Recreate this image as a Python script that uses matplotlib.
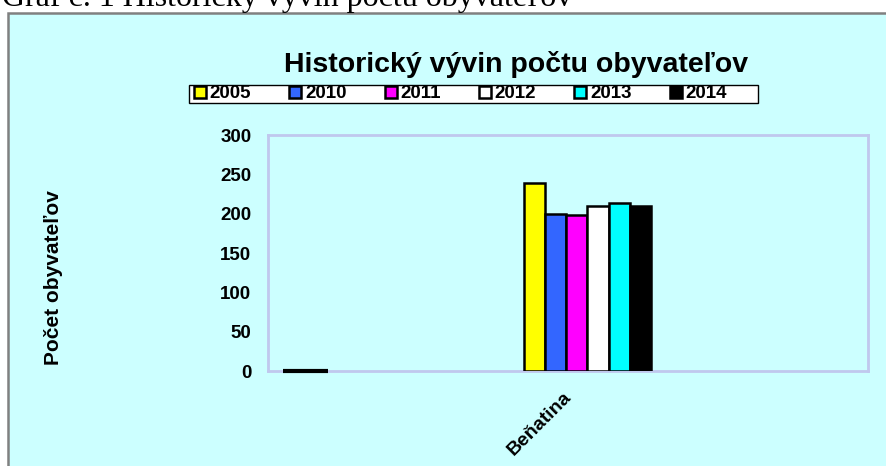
import matplotlib
matplotlib.use('Agg')
import matplotlib.pyplot as plt
from matplotlib.patches import Rectangle

# data
years = ['2005', '2010', '2011', '2012', '2013', '2014']
obec = 'Beňatina'
pocty = [239, 200, 198, 210, 213, 210]
prazdna_hodnota = 0   # prazdna kategoria vlavo (cierna ciara na nule)
farby = ['#FFFF00', '#3366FF', '#FF00FF', '#FFFFFF', '#00FFFF', '#000000']
y_ticks = [0, 50, 100, 150, 200, 250, 300]

plt.rcParams['font.family'] = ['Liberation Sans', 'DejaVu Sans']

W, H = 887, 466
fig = plt.figure(figsize=(W / 100, H / 100), dpi=100, facecolor='white')

# pozadie grafu (ram zacina vlavo hore, pokracuje za okraj)
fig.patches.append(Rectangle((8 / W, -0.1), 1.2, 1 - 13 / H + 0.1, transform=fig.transFigure,
                             facecolor='#CCFFFF', edgecolor='#808080', linewidth=1.8, zorder=-10))

# popis nad grafom
fig.text(2 / W, 1 - 6 / H, 'Graf č. 1 Historický vývin počtu obyvateľov',
         family=['Liberation Serif', 'DejaVu Serif'], fontsize=23, va='baseline', ha='left')

ax = fig.add_axes([268 / W, 1 - 371 / H, 600 / W, 236 / H])
ax.set_facecolor('#CCFFFF')

bar_w = 0.15
cat_pos = [0, 2]
ax.bar(cat_pos[0], prazdna_hodnota, width=0.32, color='black', edgecolor='black', linewidth=3,
       zorder=3, clip_on=False)
handles = []
for i, (y, v, c) in enumerate(zip(years, pocty, farby)):
    x = cat_pos[1] + (i - 2.5) * bar_w
    b = ax.bar(x, v, width=bar_w, color=c, edgecolor='black', linewidth=1.8, zorder=3, label=y)
    handles.append(b)

ax.set_ylim(0, 300)
ax.set_xlim(-0.266, 3.99)
ax.set_yticks(y_ticks)
ax.set_yticklabels([str(t) for t in y_ticks], fontsize=13.5, fontweight='bold')
ax.set_xticks([])
ax.annotate(obec, xy=(cat_pos[1], 0), xycoords=('data', 'axes fraction'),
            xytext=(-18, -12.6), textcoords='offset points', rotation=45,
            ha='right', va='top', rotation_mode='anchor', fontsize=14, fontweight='bold')
ax.tick_params(axis='y', length=0, pad=12)
for s in ax.spines.values():
    s.set_color('#C0C8EE')
    s.set_linewidth(2)

fig.text(54 / W, 1 - 278 / H, 'Počet obyvateľov', rotation=90, fontsize=15, fontweight='bold',
         ha='center', va='center')

fig.text(516 / W, 1 - 72.5 / H, 'Historický vývin počtu obyvateľov', fontsize=20.5,
         fontweight='bold', ha='center', va='baseline')

# ram legendy
fig.patches.append(Rectangle((189 / W, 1 - 103 / H), 569 / W, 18 / H, transform=fig.transFigure,
                             facecolor='white', edgecolor='black', linewidth=1.0, zorder=1))
leg = fig.legend(handles=handles, labels=years, loc='center left', bbox_to_anchor=(193 / W, 1 - 94 / H),
                 ncol=6, frameon=False,
                 prop={'weight': 'bold', 'size': 13.5}, handlelength=0.65, handleheight=0.65,
                 handletextpad=0.2, columnspacing=2.02, borderpad=0.05, borderaxespad=0)
leg.set_zorder(2)

fig.savefig('out.png', dpi=100, facecolor=fig.get_facecolor())
